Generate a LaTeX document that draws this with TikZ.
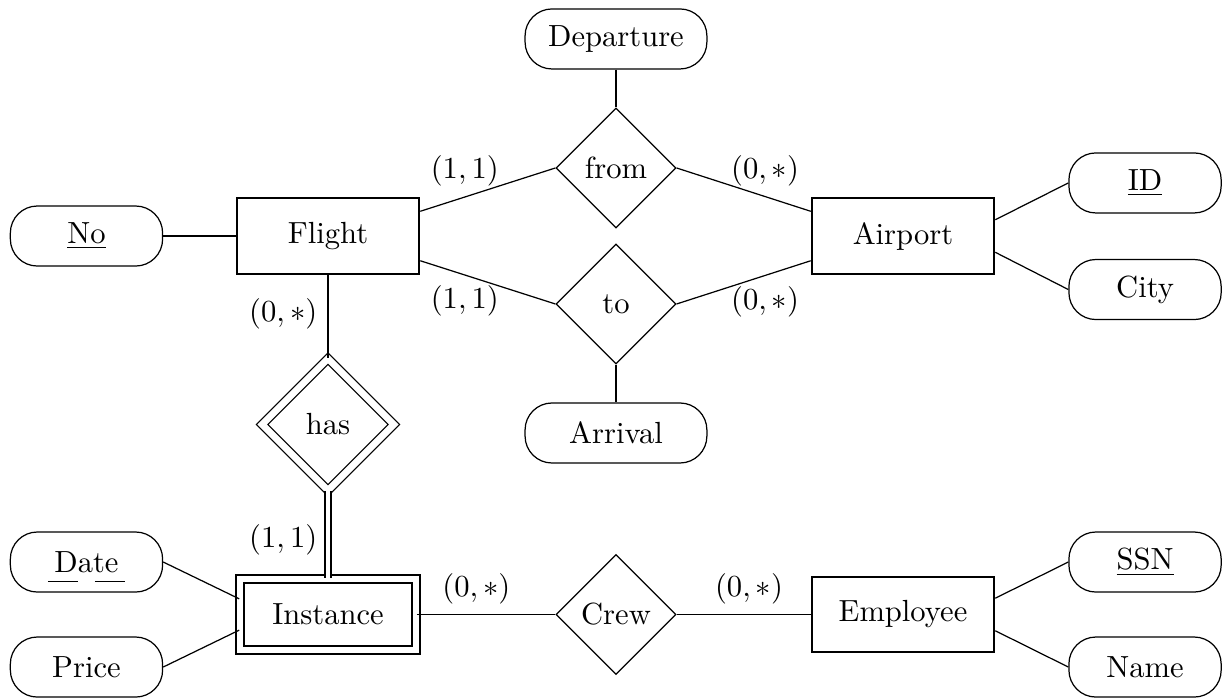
\documentclass[tikz,border=0pt]{standalone}
\usepackage{tikz}
\usetikzlibrary{shapes.geometric}

\begin{document}
\begin{tikzpicture}[
  entity/.style={draw, semithick, minimum width=2.1cm, minimum height=0.87cm},
  weak/.style={entity, double, double distance=2pt, minimum width=2.02cm, minimum height=0.81cm},
  rel/.style={draw, diamond, aspect=1, minimum size=1.38cm, inner sep=0pt},
  weakrel/.style={rel, double, double distance=2.2pt, minimum size=1.52cm},
  attr/.style={draw, rounded corners=0.31cm, minimum width=#1, minimum height=0.69cm},
  attr/.default=1.75cm,
  link/.style={draw},
  partkey/.style={dash pattern=on 0.345cm off 0.195cm},
]
  \useasboundingbox (0,0) rectangle (14.103,8.023);

  \node[attr=2.09cm] (dep) at (7.08,7.575) {Departure};
  \node[rel] (from) at (7.08,6.092) {from};
  \node[rel] (to) at (7.08,4.529) {to};
  \node[attr=2.09cm] (arr) at (7.08,3.046) {Arrival};

  \node[entity] (flight) at (3.77,5.31) {Flight};
  \node[entity] (airport) at (10.379,5.31) {Airport};
  \node[attr] (no) at (0.994,5.31) {\underline{No}};
  \node[attr] (id) at (13.161,5.92) {\underline{ID}};
  \node[attr] (city) at (13.161,4.695) {City};

  \node[weakrel] (has) at (3.77,3.144) {has};
  \node[weak] (instance) at (3.77,0.96) {Instance};
  \node[rel] (crew) at (7.08,0.96) {Crew};
  \node[entity] (employee) at (10.379,0.96) {Employee};
  \node[attr] (date) at (0.994,1.563) {Date};
  \node[attr] (price) at (0.994,0.356) {Price};
  \node[attr] (ssn) at (13.161,1.563) {\underline{SSN}};
  \node[attr] (name) at (13.161,0.356) {Name};

  \draw[partkey] ([shift={(-0.443,-0.22)}]date.center) -- ([shift={(0.443,-0.22)}]date.center);

  \draw[link] (dep) -- (from);
  \draw[link] (to) -- (arr);
  \draw[link] (flight.15) -- node[above, pos=0.33] {$(1,1)$} (from.west);
  \draw[link] (from.east) -- node[above, pos=0.66] {$(0,*)$} (airport.165);
  \draw[link] (flight.-15) -- node[below, pos=0.33] {$(1,1)$} (to.west);
  \draw[link] (to.east) -- node[below, pos=0.66] {$(0,*)$} (airport.195);
  \draw[link] (no) -- (flight);
  \draw[link] (airport.10) -- (id.west);
  \draw[link] (airport.-10) -- (city.west);
  \draw[link] (flight) -- node[left, pos=0.47] {$(0,*)$} (has);
  \draw[link, double, double distance=1.5pt] (has.south) -- node[left, pos=0.56] {$(1,1)$} (instance.north);
  \draw[link] (date.east) -- (instance.170);
  \draw[link] (price.east) -- (instance.190);
  \draw[link] (instance) -- node[above, pos=0.43] {$(0,*)$} (crew);
  \draw[link] (crew) -- node[above, pos=0.54] {$(0,*)$} (employee);
  \draw[link] (employee.10) -- (ssn.west);
  \draw[link] (employee.-10) -- (name.west);
\end{tikzpicture}
\end{document}
